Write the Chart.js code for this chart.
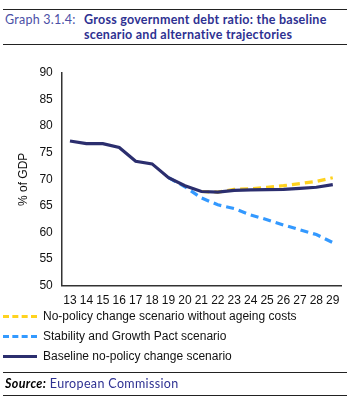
<!DOCTYPE html>
<html lang="en">
<head>
  <meta charset="UTF-8">
  <title>Gross government debt ratio</title>
  <script src="https://cdn.jsdelivr.net/npm/chart.js"></script>
  <style>
    body { margin: 0; width: 350px; height: 402px; background: #fff; position: relative; overflow: hidden; font-family: "Liberation Sans", Arial, sans-serif; }
    .rule { position: absolute; left: 3px; width: 344px; border-top: 1.5px solid #222; }
    .titulo { position: absolute; left: 5px; top: 12px; font-family: Lato, sans-serif; font-size: 12.5px; line-height: 15px; color: #2e3192; }
    .titulo .num { position: absolute; left: 0; top: 0; color: #4b4fa6; white-space: nowrap; letter-spacing: 0.25px; }
    .titulo .txt { position: absolute; left: 79px; top: 0; width: 268px; font-weight: bold; letter-spacing: 0.25px; }
    #wrap { position: absolute; left: 0; top: 52px; width: 350px; height: 264px; }
    .legenda { position: absolute; left: 3px; top: 306px; font-size: 12px; color: #111; }
    .item { height: 20px; display: flex; align-items: center; }
    .item span.amostra { width: 34px; margin-right: 6px; height: 0; }
    .fonte { position: absolute; left: 5px; top: 376px; font-family: Lato, sans-serif; font-size: 12.5px; color: #2e3192; letter-spacing: 0.35px; }
    .fonte b { font-style: italic; color: #000; }
  </style>
</head>
<body>
  <div class="rule" style="top:9px"></div>
  <div class="titulo">
    <span class="num">Graph 3.1.4:</span>
    <span class="txt">Gross government debt ratio: the baseline scenario and alternative trajectories</span>
  </div>
  <div class="rule" style="top:44px"></div>

  <div id="wrap"><canvas id="myChart"></canvas></div>

  <div class="legenda" id="legenda"></div>

  <div class="rule" style="top:372px"></div>
  <div class="fonte"><b>Source:</b> European Commission</div>
  <div class="rule" style="top:395px"></div>

<script>
  var anos = ['13', '14', '15', '16', '17', '18', '19', '20', '21', '22', '23', '24', '25', '26', '27', '28', '29'];
  var baseline = [77.2, 76.7, 76.7, 76.0, 73.4, 72.9, 70.3, 68.8, 67.7, 67.6, 67.9, 68.0, 68.05, 68.1, 68.3, 68.5, 69.0];
  var semEnvelhecimento = [null, null, null, null, null, null, null, null, 67.7, 67.6, 68.1, 68.2, 68.5, 68.8, 69.2, 69.6, 70.3];
  var pactoEstabilidade = [null, null, null, null, null, null, 70.3, 68.6, 66.5, 65.2, 64.5, 63.3, 62.4, 61.4, 60.5, 59.6, 58.1];
  var nomes = ['No-policy change scenario without ageing costs', 'Stability and Growth Pact scenario', 'Baseline no-policy change scenario'];
  var cores = ['#ffd21f', '#3399ff', '#2b2e6e'];

  // legenda em HTML
  var leg = document.getElementById('legenda');
  for (var i = 0; i < nomes.length; i++) {
    var estilo = i < 2 ? 'dashed' : 'solid';
    leg.innerHTML += '<div class="item"><span class="amostra" style="border-top:3px ' + estilo + ' ' + cores[i] + '"></span>' + nomes[i] + '</div>';
  }

  const data = {
    labels: anos,
    datasets: [{
      label: nomes[2],
      data: baseline,
      borderColor: cores[2],
      borderWidth: 3.2,
      order: 0
    }, {
      label: nomes[0],
      data: semEnvelhecimento,
      borderColor: cores[0],
      borderWidth: 3.2,
      borderDash: [8, 5],
      order: 1
    }, {
      label: nomes[1],
      data: pactoEstabilidade,
      borderColor: cores[1],
      borderWidth: 3.2,
      borderDash: [8, 5],
      order: 2
    }]
  }

  const config = {
    type: 'line',
    data: data,
    options: {
      responsive: true,
      maintainAspectRatio: false,
      animation: false,
      layout: { padding: { top: 21, right: 9, left: 16, bottom: 0 } },
      elements: { point: { radius: 0 }, line: { tension: 0 } },
      plugins: { legend: { display: false }, tooltip: { enabled: false } },
      scales: {
        x: {
          offset: true,
          grid: { display: false, drawTicks: false },
          border: { color: '#333', width: 1.5 },
          ticks: { color: '#111', font: { family: 'Liberation Sans', size: 12 }, padding: 8, maxRotation: 0, autoSkip: false }
        },
        y: {
          min: 50,
          max: 90,
          grid: { display: false, drawTicks: false },
          border: { color: '#333', width: 1.5 },
          ticks: { stepSize: 5, color: '#111', font: { family: 'Liberation Sans', size: 12 }, padding: 9 },
          title: { display: true, text: '% of GDP', color: '#111', font: { family: 'Liberation Sans', size: 12 }, padding: 0 }
        }
      }
    }
  }

  let myChart = new Chart(document.getElementById('myChart'), config)
</script>
</body>
</html>
